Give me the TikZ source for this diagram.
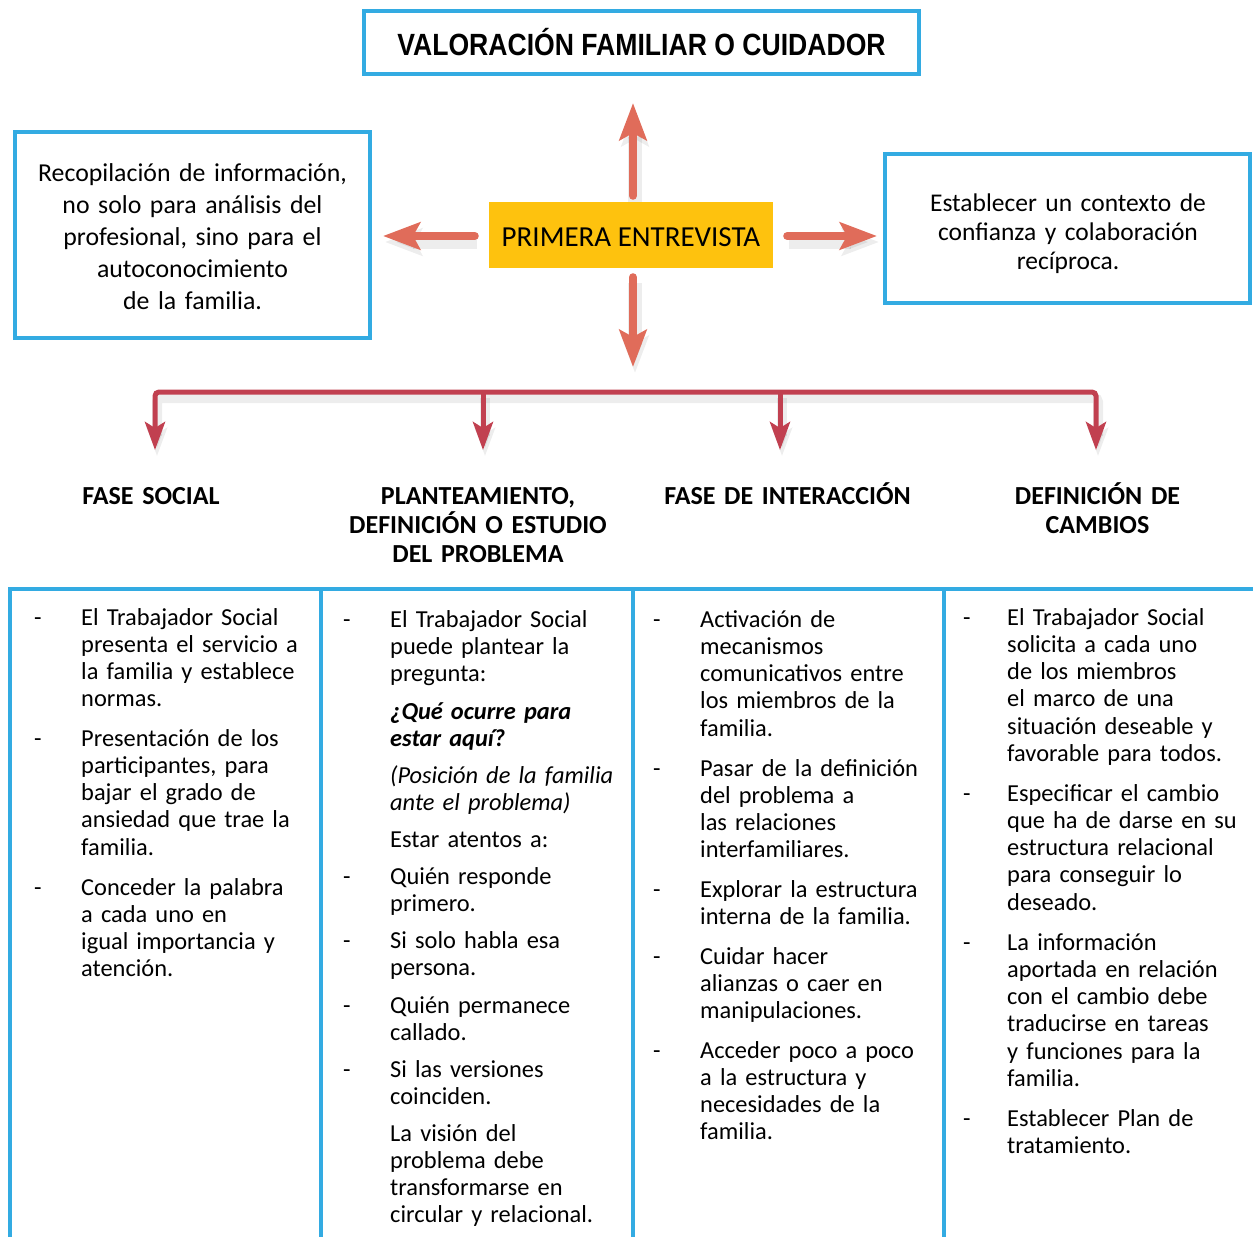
\documentclass[tikz,border=0pt]{standalone}
\usepackage{fontspec}
\setmainfont{Carlito}
\newfontfamily\titlefont{Liberation Sans}
\usetikzlibrary{arrows.meta}
\definecolor{frameblue}{RGB}{51,171,226}
\definecolor{salmon}{RGB}{224,108,90}
\definecolor{crimson}{RGB}{193,64,80}
\definecolor{amber}{RGB}{254,194,14}

% one bullet line of a column: dash + paragraph
\newcommand\dashitem[5]{%
  \node[dashmark] (#1d) at (#2,#4) {-};
  \node[bodytext] (#1) at (#3,#4) {#5};}

\begin{document}
\begin{tikzpicture}[x=1pt,y=-1pt,
  frame/.style={draw=frameblue,line width=4pt,inner sep=0pt},
  softshadow/.style={preaction={draw=black,opacity=0.07,line width=#1,
      transform canvas={shift={(2pt,-6pt)}}}},
  bigarrow/.style={draw=salmon,line width=8pt,line cap=round,
      -{Stealth[length=37pt,width=27pt,inset=7pt]},softshadow=14pt},
  redline/.style={draw=crimson,line width=5pt,rounded corners=4pt,softshadow=10pt},
  redtip/.style={-{Stealth[length=28pt,width=20pt,inset=6pt]}},
  heading/.style={anchor=base,inner sep=0pt,align=center,text width=320pt,
      font=\bfseries\fontsize{26}{29}\selectfont},
  bodytext/.style={anchor=base west,inner sep=0pt,text width=250pt,align=left,
      font=\fontsize{24.4}{27.3}\selectfont},
  dashmark/.style={anchor=base west,inner sep=0pt,font=\fontsize{24.4}{27.3}\selectfont},
  tablerule/.style={draw=frameblue,line width=4pt}
]
\useasboundingbox (0,0) rectangle (1253,1237);

% --- title box ---
\node[frame,minimum width=555pt,minimum height=63pt] (title) at (641.5,42.5) {};
\node[anchor=base,inner sep=0pt,font=\titlefont\bfseries\fontsize{30.7}{34}\selectfont]
  (titletext) at (641.5,55) {\scalebox{0.866}[1]{VALORACIÓN FAMILIAR O CUIDADOR}};

% --- central node ---
\node[fill=amber,minimum width=284pt,minimum height=66pt,inner sep=0pt] (pe) at (631,235) {};
\node[anchor=base,inner sep=0pt,font=\fontsize{29}{32}\selectfont] (petext) at (631,246) {PRIMERA ENTREVISTA};

% --- side boxes ---
\node[frame,minimum width=355pt,minimum height=206pt] (leftbox) at (192.5,235) {};
\node[anchor=base,inner sep=0pt,align=center,text width=345pt,font=\fontsize{25.8}{32}\selectfont]
  (lefttext) at (192.5,181) {Recopilación de información,\\no solo para análisis del\\profesional, sino para el\\autoconocimiento\\de la familia.};

\node[frame,minimum width=365pt,minimum height=149pt] (rightbox) at (1067.5,228.5) {};
\node[anchor=base,inner sep=0pt,align=center,text width=345pt,font=\fontsize{25.5}{29}\selectfont]
  (righttext) at (1068,211) {Establecer un contexto de\\confianza y colaboración\\recíproca.};

% --- arrows out of the central node ---
\coordinate (upTip) at (633,103);
\coordinate (leftTip) at (383,236);
\coordinate (rightTip) at (877,236);
\coordinate (downTip) at (633,367);
\draw[bigarrow] ([shift={(2,-6)}]pe.north) -- (upTip);
\draw[bigarrow] ([shift={(-14,1)}]pe.west) -- (leftTip);
\draw[bigarrow] ([shift={(14,1)}]pe.east) -- (rightTip);
\draw[bigarrow] ([shift={(2,9)}]pe.south) -- (downTip);

% --- branching connector ---
\coordinate (brL) at (155,392);
\coordinate (brR) at (1096,392);
\coordinate (j2) at (483,392);
\coordinate (j3) at (780,392);
\coordinate (t1) at (155,450);
\coordinate (t2) at (483,450);
\coordinate (t3) at (780,450);
\coordinate (t4) at (1096,450);
\draw[redline,{Stealth[length=28pt,width=20pt,inset=6pt]}-{Stealth[length=28pt,width=20pt,inset=6pt]}]
  (t1) -- (brL) -- (brR) -- (t4);
\draw[redline,redtip] (j2) -- (t2);
\draw[redline,redtip] (j3) -- (t3);

% --- phase headings ---
\node[heading] (h1) at (151,504) {FASE SOCIAL};
\node[heading] (h2) at (478,504) {PLANTEAMIENTO,\\DEFINICIÓN O ESTUDIO\\DEL PROBLEMA};
\node[heading] (h3) at (787.5,504) {FASE DE INTERACCIÓN};
\node[heading] (h4) at (1097.5,504) {DEFINICIÓN DE\\CAMBIOS};

% --- table rules ---
\draw[tablerule] (8,589) -- (1253,589);
\draw[tablerule] (10,587) -- (10,1237);
\draw[tablerule] (321,587) -- (321,1237);
\draw[tablerule] (633,587) -- (633,1237);
\draw[tablerule] (944,587) -- (944,1237);

% --- column 1 ---
\dashitem{a1}{34}{81}{625}{El Trabajador Social\\presenta el servicio a\\la familia y establece\\normas.}
\dashitem{a2}{34}{81}{746}{Presentación de los\\participantes, para\\bajar el grado de\\ansiedad que trae la\\familia.}
\dashitem{a3}{34}{81}{895}{Conceder la palabra\\a cada uno en\\igual importancia y\\atención.}

% --- column 2 ---
\dashitem{b1}{343}{390}{627}{El Trabajador Social\\puede plantear la\\pregunta:}
\node[bodytext] (b2) at (390,719) {\textbf{\textit{¿Qué ocurre para\\estar aquí?}}};
\node[bodytext] (b3) at (390,783) {\textit{(Posición de la familia\\ante el problema)}};
\node[bodytext] (b4) at (390,847) {Estar atentos a:};
\dashitem{b5}{343}{390}{884}{Quién responde\\primero.}
\dashitem{b6}{343}{390}{948}{Si solo habla esa\\persona.}
\dashitem{b7}{343}{390}{1013}{Quién permanece\\callado.}
\dashitem{b8}{343}{390}{1077}{Si las versiones\\coinciden.}
\node[bodytext] (b9) at (390,1141) {La visión del\\problema debe\\transformarse en\\circular y relacional.};

% --- column 3 ---
\dashitem{c1}{653}{700}{627}{Activación de\\mecanismos\\comunicativos entre\\los miembros de la\\familia.}
\dashitem{c2}{653}{700}{776}{Pasar de la definición\\del problema a\\las relaciones\\interfamiliares.}
\dashitem{c3}{653}{700}{897}{Explorar la estructura\\interna de la familia.}
\dashitem{c4}{653}{700}{964}{Cuidar hacer\\alianzas o caer en\\manipulaciones.}
\dashitem{c5}{653}{700}{1058}{Acceder poco a poco\\a la estructura y\\necesidades de la\\familia.}

% --- column 4 ---
\dashitem{d1}{963}{1007}{625}{El Trabajador Social\\solicita a cada uno\\de los miembros\\el marco de una\\situación deseable y\\favorable para todos.}
\dashitem{d2}{963}{1007}{801}{Especificar el cambio\\que ha de darse en su\\estructura relacional\\para conseguir lo\\deseado.}
\dashitem{d3}{963}{1007}{950}{La información\\aportada en relación\\con el cambio debe\\traducirse en tareas\\y funciones para la\\familia.}
\dashitem{d4}{963}{1007}{1126}{Establecer Plan de\\tratamiento.}
\end{tikzpicture}
\end{document}
